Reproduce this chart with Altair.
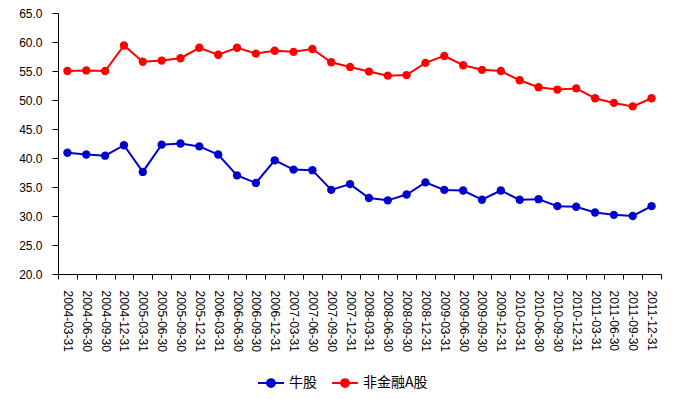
import altair as alt
import pandas as pd

dates = ["2004-03-31","2004-06-30","2004-09-30","2004-12-31",
         "2005-03-31","2005-06-30","2005-09-30","2005-12-31",
         "2006-03-31","2006-06-30","2006-09-30","2006-12-31",
         "2007-03-31","2007-06-30","2007-09-30","2007-12-31",
         "2008-03-31","2008-06-30","2008-09-30","2008-12-31",
         "2009-03-31","2009-06-30","2009-09-30","2009-12-31",
         "2010-03-31","2010-06-30","2010-09-30","2010-12-31",
         "2011-03-31","2011-06-30","2011-09-30","2011-12-31"]

bull = [40.9, 40.6, 40.4, 42.2, 37.6, 42.3, 42.5, 42.0,
        40.6, 37.0, 35.7, 39.6, 38.0, 37.9, 34.5, 35.5,
        33.1, 32.7, 33.7, 35.8, 34.5, 34.4, 32.8, 34.4,
        32.8, 32.9, 31.7, 31.6, 30.6, 30.2, 30.0, 31.7]

nonfin = [55.0, 55.1, 55.0, 59.4, 56.6, 56.8, 57.2, 59.0,
          57.8, 59.0, 58.0, 58.5, 58.3, 58.8, 56.5, 55.7,
          54.9, 54.2, 54.3, 56.4, 57.6, 56.0, 55.2, 55.0,
          53.4, 52.2, 51.8, 52.0, 50.3, 49.5, 48.9, 50.3]

series_names = ["牛股", "非金融A股"]
series_colors = ["#0000CC", "#FF0000"]

rows = []
for d, v in zip(dates, bull):
    rows.append({"date": d, "value": v, "series": series_names[0]})
for d, v in zip(dates, nonfin):
    rows.append({"date": d, "value": v, "series": series_names[1]})
df = pd.DataFrame(rows)

font = "Liberation Sans"
cjk = "Noto Sans CJK SC"

x = alt.X("date:N", sort=dates, title=None,
          scale=alt.Scale(paddingInner=0, paddingOuter=0),
          axis=alt.Axis(labelAngle=90, labelAlign="left", labelBaseline="middle",
                        labelPadding=11, labelFont=font, labelFontSize=12,
                        labelColor="#000000", tickBand="extent", tickSize=5,
                        tickColor="#000000", domainColor="#000000",
                        labelOverlap=False, grid=False, gridOpacity=0,
                        gridColor="transparent"))
y = alt.Y("value:Q", title=None,
          scale=alt.Scale(domain=[20, 65], nice=False, zero=False),
          axis=alt.Axis(values=[20, 25, 30, 35, 40, 45, 50, 55, 60, 65],
                        format=".1f", labelFont=font, labelFontSize=12,
                        labelColor="#000000", labelPadding=10, tickSize=6,
                        tickColor="#000000", domainColor="#000000", grid=False))
color = alt.Color("series:N", sort=series_names,
                  scale=alt.Scale(domain=series_names, range=series_colors),
                  legend=alt.Legend(title=None, orient="none", direction="horizontal",
                                    legendX=199, legendY=356,
                                    labelFont=cjk, labelFontSize=14, labelColor="#000000",
                                    symbolType="M-1,0H1M-0.3,0A0.3,0.3,0,1,1,0.3,0A0.3,0.3,0,1,1,-0.3,0Z",
                                    symbolSize=676, symbolStrokeWidth=2,
                                    columnPadding=11, labelOffset=4))

chart = alt.Chart(df).mark_line(
    strokeWidth=2,
    point=alt.OverlayMarkDef(filled=True, size=70)
).encode(x=x, y=y, color=color).properties(
    width=603, height=261,
    autosize=alt.AutoSizeParams(type="none"),
    padding={"left": 50, "top": 5, "right": 9, "bottom": 117},
    view=alt.ViewBackground(stroke=None)
).configure(background="white", view=alt.ViewConfig(stroke=None),
            axis=alt.AxisConfig(grid=False, gridOpacity=0))

chart.save("out.html", embed_options={"renderer": "svg", "actions": False})
